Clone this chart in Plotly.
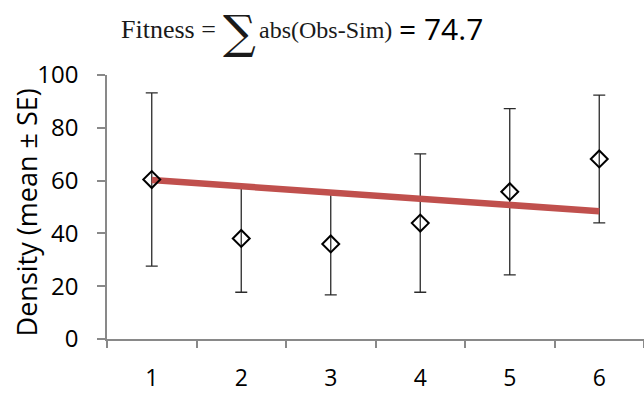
import plotly.graph_objects as go

# ---- data ----
categories = [1, 2, 3, 4, 5, 6]
tick_labels = ["1", "2", "3", "4", "5", "6"]
obs_mean = [60.4, 38.1, 36.0, 43.9, 55.8, 68.2]
obs_se = [32.8, 20.4, 19.3, 26.2, 31.5, 24.2]
sim_values = [60.2, 57.8, 55.5, 53.1, 50.8, 48.4]
fitness = 74.7
y_ticks = [0, 20, 40, 60, 80, 100]

W, H = 644, 393
ML, MR, MT, MB = 107, 0, 75, 49
PW = W - ML - MR
PH = H - MT - MB


def px_x(px):
    return (px - ML) / PW


def px_y(py):
    return (H - MB - py) / PH


fig = go.Figure()

# error bars (drawn first so the simulated line covers them)
fig.add_trace(go.Scatter(
    x=categories, y=obs_mean, mode="markers",
    marker=dict(size=1, color="rgba(0,0,0,0)"),
    error_y=dict(type="data", array=obs_se, visible=True,
                 color="#2b2b2b", thickness=1.3, width=6),
    hoverinfo="skip", showlegend=False,
))

# simulated line
fig.add_trace(go.Scatter(
    x=categories, y=sim_values, mode="lines",
    line=dict(color="#C0504D", width=6.5),
    showlegend=False,
))

# observed means
fig.add_trace(go.Scatter(
    x=categories, y=obs_mean, mode="markers",
    marker=dict(symbol="diamond-open", size=13, color="black",
                line=dict(color="black", width=2)),
    showlegend=False,
))

axis_col = "#898989"

fig.update_layout(
    width=W, height=H,
    margin=dict(l=ML, r=MR, t=MT, b=MB, pad=0),
    paper_bgcolor="white", plot_bgcolor="white",
    font=dict(family="Open Sans", color="black"),
    xaxis=dict(
        range=[0.5, 6.5],
        tickvals=categories, ticktext=tick_labels,
        ticks="", ticklabelstandoff=18,
        tickfont=dict(size=23, family="Open Sans", color="black"),
        showline=True, linecolor=axis_col, linewidth=1.5,
        showgrid=False, zeroline=False,
        minor=dict(tickvals=[c - 0.5 for c in categories] + [categories[-1] + 0.5],
                   ticks="outside", ticklen=7, tickcolor=axis_col, tickwidth=1.5,
                   showgrid=False),
    ),
    yaxis=dict(
        range=[0, 100],
        tickvals=y_ticks,
        ticks="outside", ticklen=8, tickcolor=axis_col, tickwidth=1.5,
        ticklabelstandoff=14,
        tickfont=dict(size=24, family="Open Sans", color="black"),
        showline=True, linecolor=axis_col, linewidth=1.5,
        showgrid=False, zeroline=False,
    ),
)

# y-axis title
fig.add_annotation(
    text="Density (mean ± SE)", textangle=-90,
    xref="paper", yref="paper", x=px_x(26), y=px_y(215),
    xanchor="center", yanchor="middle", showarrow=False,
    font=dict(size=27, family="Open Sans", color="black"),
)

# title pieces
fig.add_annotation(
    text="Fitness =", xref="paper", yref="paper",
    x=px_x(119), y=px_y(29), xanchor="left", yanchor="middle", showarrow=False,
    font=dict(size=26, family="Liberation Serif", color="#1a1a1a"),
)
fig.add_annotation(
    text="∑", xref="paper", yref="paper",
    x=px_x(239), y=px_y(31), xanchor="center", yanchor="middle", showarrow=False,
    font=dict(size=46, family="DejaVu Serif", color="#1a1a1a"),
)
fig.add_annotation(
    text="abs(Obs-Sim)", xref="paper", yref="paper",
    x=px_x(257), y=px_y(29), xanchor="left", yanchor="middle", showarrow=False,
    font=dict(size=24, family="Liberation Serif", color="#1a1a1a"),
)
fig.add_annotation(
    text=f"= {fitness}", xref="paper", yref="paper",
    x=px_x(397), y=px_y(28), xanchor="left", yanchor="middle", showarrow=False,
    font=dict(size=30, family="Open Sans", color="black"),
)

fig.write_html("out.html")
